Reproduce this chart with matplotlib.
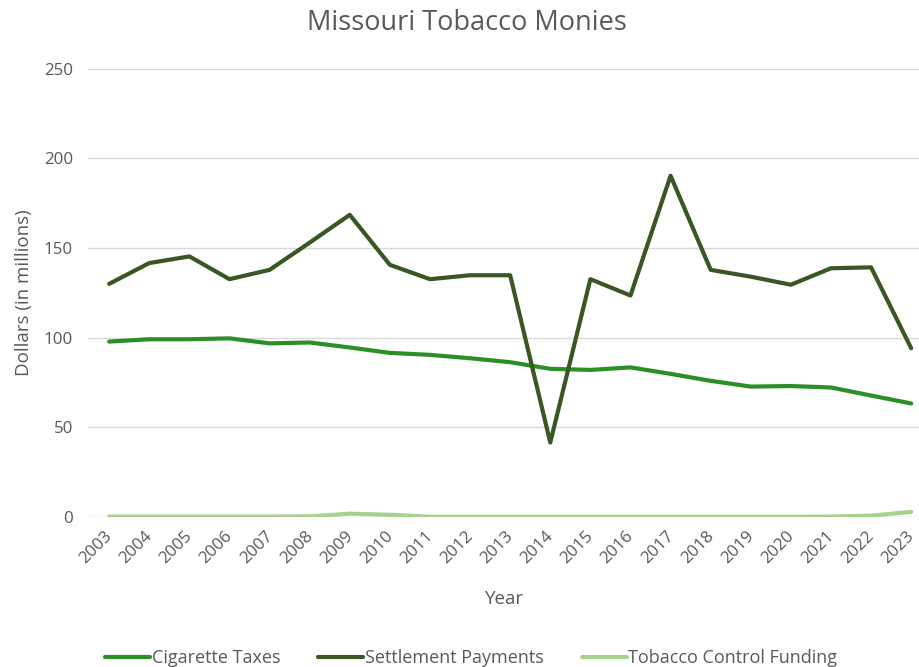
import matplotlib
matplotlib.use("Agg")
import matplotlib.pyplot as plt

years = list(range(2003, 2024))
cigarette_taxes = [97.8, 99.1, 99.1, 99.6, 96.8, 97.3, 94.5, 91.5, 90.4, 88.5, 86.3,
                   82.6, 82.0, 83.4, 79.8, 75.9, 72.7, 73.0, 72.2, 67.7, 63.3]
settlement_payments = [130.0, 141.6, 145.3, 132.6, 137.8, 153.0, 168.5, 140.6, 132.6, 134.8, 134.8,
                       41.5, 132.6, 123.5, 190.3, 137.8, 134.0, 129.5, 138.7, 139.2, 94.1]
control_funding = [0.2, 0.2, 0.2, 0.2, 0.2, 0.3, 1.8, 1.2, 0.1, 0.1, 0.1,
                   0.1, 0.1, 0.1, 0.1, 0.1, 0.1, 0.1, 0.2, 0.7, 2.8]

grey = "#595959"
plt.rcParams["font.family"] = ["Open Sans", "DejaVu Sans"]

fig = plt.figure(figsize=(9.2, 6.67), dpi=100)
ax = fig.add_axes([0.096, 0.225, 0.904, 0.672])

ax.plot(years, cigarette_taxes, color="#2b8f26", lw=3, label="Cigarette Taxes", solid_capstyle="round")
ax.plot(years, settlement_payments, color="#385723", lw=3, label="Settlement Payments", solid_capstyle="round")
ax.plot(years, control_funding, color="#a9d18e", lw=3, label="Tobacco Control Funding", solid_capstyle="round")

ax.set_ylim(0, 250)
ax.set_yticks(range(0, 251, 50))
ax.set_xlim(2002.48, 2023.22)
ax.set_xticks(years)
ax.set_xticklabels([])
# year labels drawn by hand so they can sit a little left of the tick (keeps 2023 inside)
for y in years:
    ax.annotate(str(y), xy=(y, 0), xycoords=("data", "axes fraction"),
                xytext=(-3.5, -8), textcoords="offset points",
                rotation=45, ha="right", va="top", rotation_mode="anchor",
                color=grey, fontsize=12.2)
ax.grid(axis="y", color="#d9d9d9", lw=1)
ax.set_axisbelow(True)
for s in ax.spines.values():
    s.set_visible(False)
ax.tick_params(length=0, colors=grey, labelsize=12.2)
ax.tick_params(axis="y", pad=11)

ax.set_xlabel("Year", color=grey, fontsize=13.5)
ax.xaxis.set_label_coords(0.5, -0.163)
ax.set_ylabel("Dollars (in millions)", color=grey, fontsize=13.5, labelpad=8)
fig.text(0.507, 0.966, "Missouri Tobacco Monies", ha="center", va="center", color=grey, fontsize=19.5)

fig.legend(loc="center", bbox_to_anchor=(0.512, 0.013), ncol=3, frameon=False,
           fontsize=13, handlelength=2.5, handletextpad=0.1, columnspacing=2.1,
           labelcolor=grey)

fig.savefig("out.png", dpi=100)
